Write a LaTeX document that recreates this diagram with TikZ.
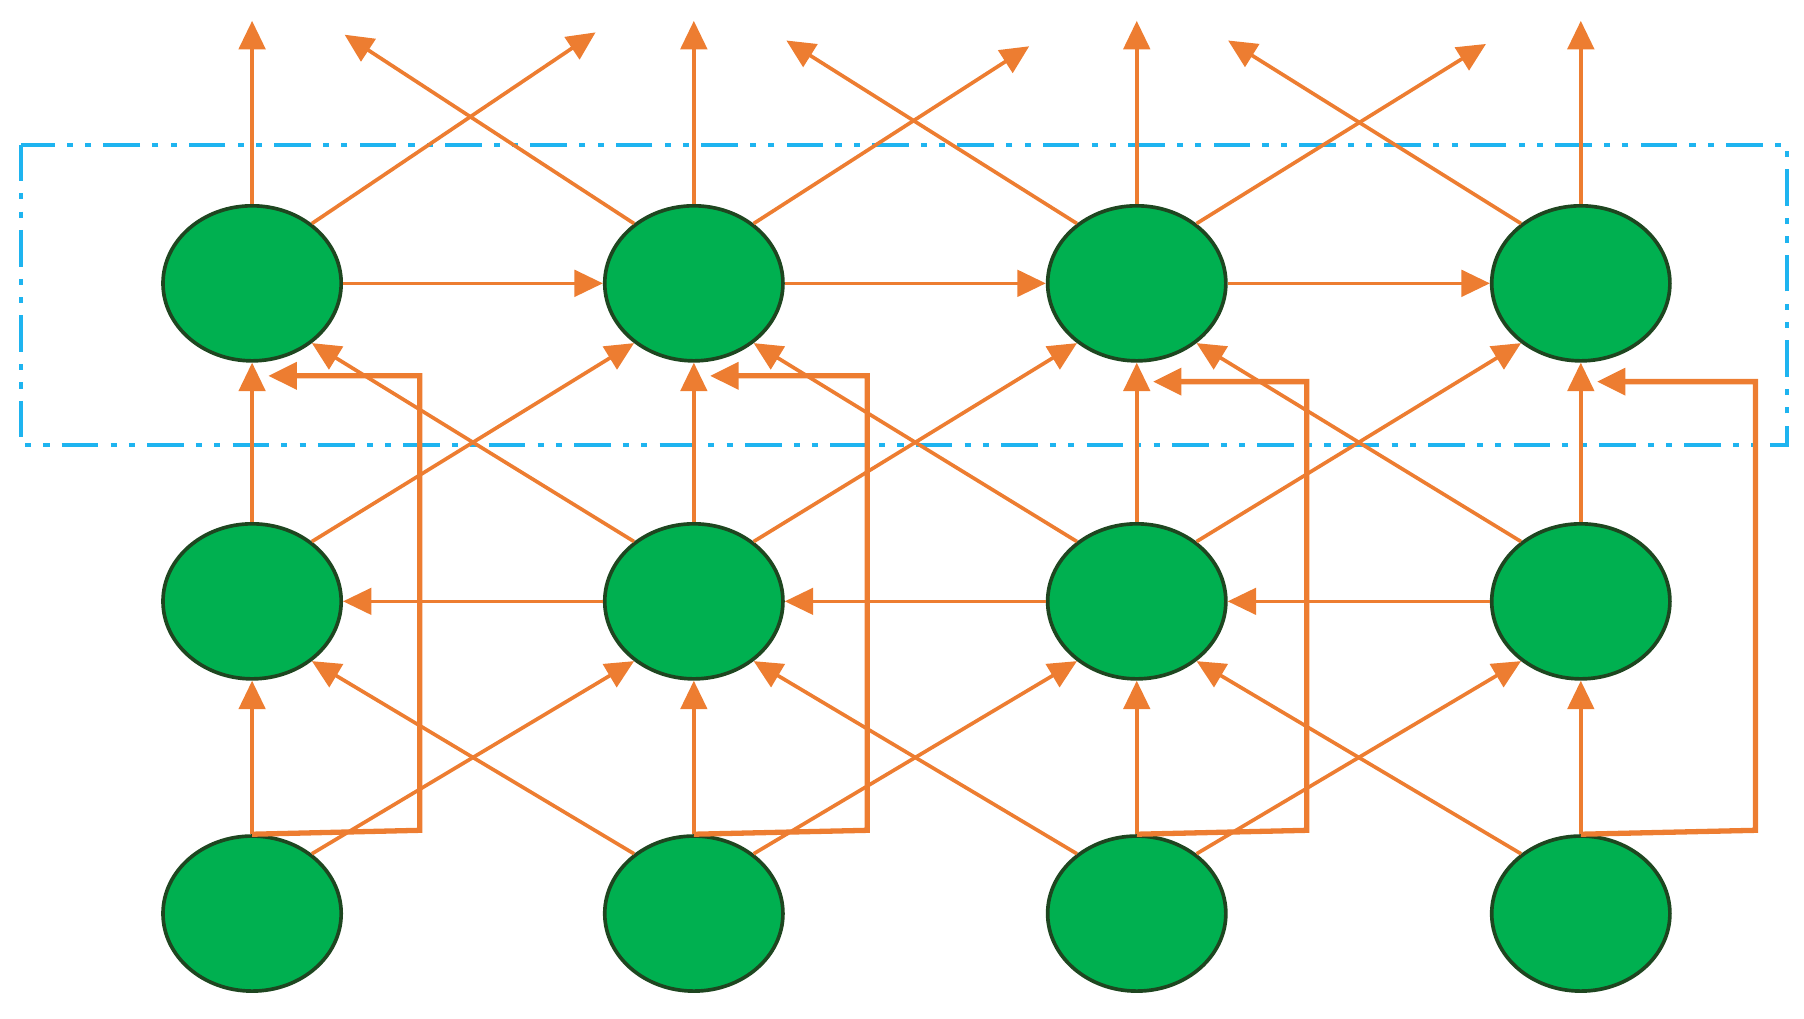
\documentclass[tikz,border=0pt]{standalone}
\usetikzlibrary{shapes.geometric,arrows.meta}
\definecolor{org}{HTML}{ED7D31}
\definecolor{grn}{HTML}{00B050}
\definecolor{dgrn}{HTML}{1E4620}
\definecolor{blu}{HTML}{1EB4F0}
\begin{document}
\begin{tikzpicture}[x=0.01cm,y=-0.01cm,
  cell/.style={ellipse,fill=grn,draw=dgrn,line width=0.9pt,minimum width=1.54cm,minimum height=1.34cm,inner sep=0pt},
  ar/.style={org,line width=0.9pt,-{Triangle[length=7pt,width=6.5pt]}},
  lp/.style={org,line width=1.3pt,-{Triangle[length=7pt,width=6.5pt]}}]
\useasboundingbox (0,0) rectangle (1560,881);
\draw[blu,line width=1pt,dash pattern=on 9pt off 3pt on 1.5pt off 3pt on 1.5pt off 3pt] (18,125) rectangle (1545,385);
\foreach \i/\x in {1/218,2/600,3/983,4/1367}{
  \node[cell] (t\i) at (\x,245) {};
  \node[cell] (m\i) at (\x,520) {};
  \node[cell] (b\i) at (\x,790) {};
  \coordinate (u\i) at (\x,18);
}
% top outputs
\foreach \i in {1,...,4} \draw[ar] (t\i.north) -- (u\i);
\coordinate (r1) at (515,28); \coordinate (r2) at (890,40); \coordinate (r3) at (1285,38);
\coordinate (l2) at (298,30); \coordinate (l3) at (680,35); \coordinate (l4) at (1062,35);
\draw[ar] (t1.45) -- (r1); \draw[ar] (t2.45) -- (r2); \draw[ar] (t3.45) -- (r3);
\draw[ar] (t2.135) -- (l2); \draw[ar] (t3.135) -- (l3); \draw[ar] (t4.135) -- (l4);
% horizontal
\draw[ar] (t1) -- (t2); \draw[ar] (t2) -- (t3); \draw[ar] (t3) -- (t4);
\draw[ar] (m2) -- (m1); \draw[ar] (m3) -- (m2); \draw[ar] (m4) -- (m3);
% vertical
\foreach \i in {1,...,4}{
  \draw[ar] (m\i.north) -- (t\i.south);
  \draw[ar] (b\i.north) -- (m\i.south);
}
% diagonals
\foreach \i/\j in {1/2,2/3,3/4}{
  \draw[ar] (m\i.45) -- (t\j.-135);
  \draw[ar] (m\j.135) -- (t\i.-45);
  \draw[ar] (b\i.45) -- (m\j.-135);
  \draw[ar] (b\j.135) -- (m\i.-45);
}
% loops
\coordinate (e1) at (232,325); \coordinate (e2) at (614,325);
\coordinate (e3) at (997,330); \coordinate (e4) at (1381,330);
\draw[lp] (b1.north) -- (363,718) -- (363,325) -- (e1);
\draw[lp] (b2.north) -- (750,718) -- (750,325) -- (e2);
\draw[lp] (b3.north) -- (1130,718) -- (1130,330) -- (e3);
\draw[lp] (b4.north) -- (1518,718) -- (1518,330) -- (e4);
\end{tikzpicture}
\end{document}
